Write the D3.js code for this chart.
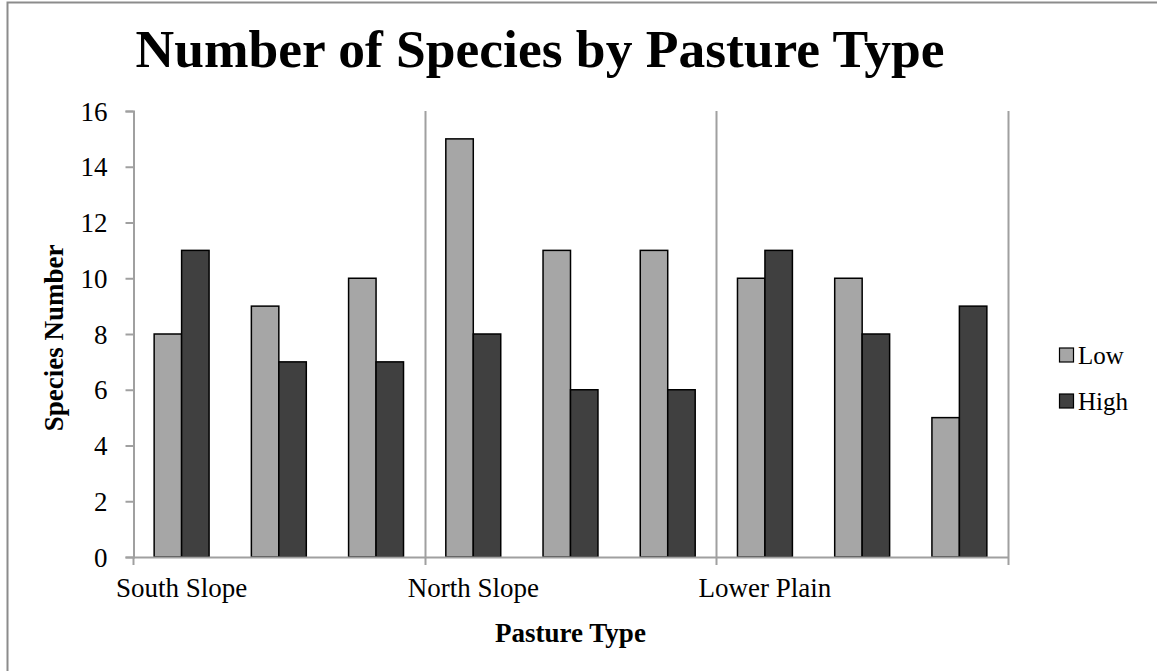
<!DOCTYPE html>
<html><head><meta charset="utf-8">
<script src="https://cdn.jsdelivr.net/npm/d3@7/dist/d3.min.js"></script>
<style>body{margin:0;background:#fff}svg{display:block}</style>
</head><body><svg id="c" width="1157" height="671"></svg>
<script>
const categories = ["South Slope","","","North Slope","","","Lower Plain","",""];
const lowValues  = [8, 9, 10, 15, 11, 11, 10, 10, 5];
const highValues = [11, 7, 7, 8, 6, 6, 11, 8, 9];
const seriesNames = ["Low", "High"];
const yTicks = [0, 2, 4, 6, 8, 10, 12, 14, 16];
const groupBoundaries = [3, 6, 9];

const svg = d3.select("#c");
const W = 1157, H = 671;
const m = {left: 133, right: 1008, top: 111, bottom: 557};
const serif = "'Liberation Serif','Times New Roman',serif";

svg.append("rect").attr("x", 7.5).attr("y", 2.5).attr("width", W + 10).attr("height", H + 10)
  .attr("fill", "#fff").attr("stroke", "#8c8c8c").attr("stroke-width", 2);

const idx = d3.range(categories.length);
const x = d3.scaleBand().domain(idx).range([m.left, m.right]).paddingInner(0).paddingOuter(0);
const inner = d3.scaleBand().domain(seriesNames).range([0, x.bandwidth()]).paddingInner(0).paddingOuter(0.77);
const y = d3.scaleLinear().domain([0, 16]).range([m.bottom, m.top]);
const colors = {Low: "#a6a6a6", High: "#404040"};

// vertical separators
groupBoundaries.forEach(b => {
  const xx = Math.round(m.left + b * x.step()) + 0.5;
  svg.append("line").attr("x1", xx).attr("x2", xx).attr("y1", m.top).attr("y2", m.bottom + 8)
    .attr("stroke", "#a0a0a0").attr("stroke-width", 2);
});

// y axis
const yAxis = d3.axisLeft(y).tickValues(yTicks).tickSize(8).tickPadding(18).tickFormat(d3.format("d"));
const gy = svg.append("g").attr("transform", `translate(${m.left + 0.5},0)`).call(yAxis);
gy.select(".domain").attr("stroke", "#a0a0a0").attr("stroke-width", 2);
gy.selectAll(".tick line").attr("stroke", "#a0a0a0").attr("stroke-width", 2);
gy.selectAll(".tick text").attr("font-family", serif).attr("font-size", 27).attr("fill", "#000").attr("dy", "0.34em");
svg.append("line").attr("x1", m.left + 0.5).attr("x2", m.left + 0.5).attr("y1", m.bottom).attr("y2", m.bottom + 8)
  .attr("stroke", "#a0a0a0").attr("stroke-width", 2);

// bars
const data = [];
idx.forEach(i => {
  data.push({i, s: "Low", v: lowValues[i]});
  data.push({i, s: "High", v: highValues[i]});
});
svg.append("g").selectAll("rect").data(data).join("rect")
  .attr("x", d => x(d.i) + inner(d.s))
  .attr("width", inner.bandwidth())
  .attr("y", d => y(d.v))
  .attr("height", d => y(0) - y(d.v))
  .attr("fill", d => colors[d.s])
  .attr("stroke", "#000").attr("stroke-width", 1.5);

// x axis line
svg.append("line").attr("x1", m.left).attr("x2", m.right + 1).attr("y1", m.bottom + 0.5).attr("y2", m.bottom + 0.5)
  .attr("stroke", "#a0a0a0").attr("stroke-width", 2);

// category labels
svg.append("g").selectAll("text").data(idx.filter(i => categories[i] !== "")).join("text")
  .attr("x", i => x(i) + x.bandwidth() / 2).attr("y", 597)
  .attr("text-anchor", "middle").attr("font-family", serif).attr("font-size", 27)
  .text(i => categories[i]);

// titles
svg.append("text").attr("x", 540).attr("y", 67).attr("text-anchor", "middle")
  .attr("font-family", serif).attr("font-weight", "bold").attr("font-size", 53.5)
  .text("Number of Species by Pasture Type");
svg.append("text").attr("x", (m.left + m.right) / 2).attr("y", 642).attr("text-anchor", "middle")
  .attr("font-family", serif).attr("font-weight", "bold").attr("font-size", 27)
  .text("Pasture Type");
svg.append("text").attr("transform", `translate(63,338) rotate(-90)`)
  .attr("text-anchor", "middle").attr("font-family", serif).attr("font-weight", "bold").attr("font-size", 27)
  .text("Species Number");

// legend
const lg = svg.append("g");
seriesNames.forEach((s, k) => {
  const yy = 355 + k * 46;
  lg.append("rect").attr("x", 1059.5).attr("y", yy - 7).attr("width", 14).attr("height", 14)
    .attr("fill", colors[s]).attr("stroke", "#000").attr("stroke-width", 1.2);
  lg.append("text").attr("x", 1078).attr("y", yy + 9).attr("font-family", serif).attr("font-size", 25).text(s);
});
</script></body></html>
